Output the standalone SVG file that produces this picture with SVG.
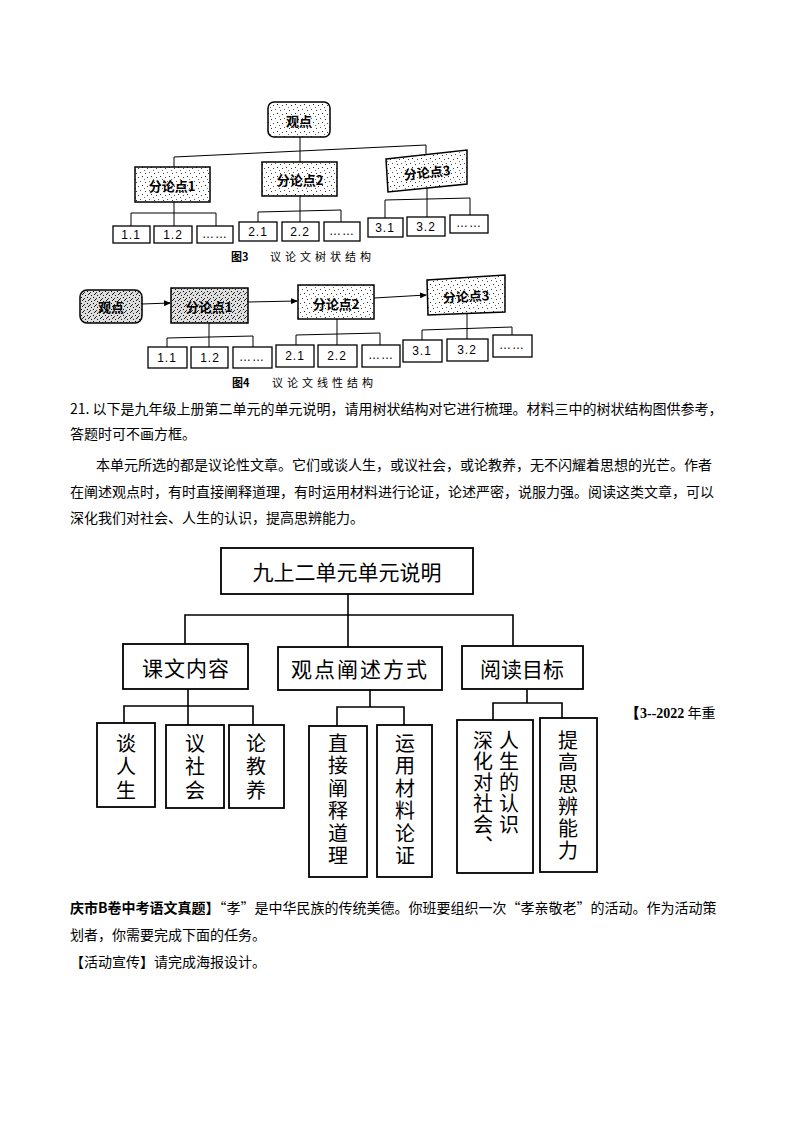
<svg xmlns="http://www.w3.org/2000/svg" width="794" height="1123" viewBox="0 0 794 1123">
<style>
.ln{stroke:#000;stroke-width:1;fill:none}
.bx{stroke:#000;stroke-width:1.3;fill:#fff}
.sb{stroke:#000;stroke-width:1.5;fill:url(#stip)}
.sd{stroke:#000;stroke-width:1.5;fill:url(#stipD)}
.lf{font-family:"Liberation Sans",Arial,sans-serif;font-size:12px;fill:#000;text-anchor:middle;dominant-baseline:central;letter-spacing:1px}
.hd{font-family:"Noto Sans CJK SC",sans-serif;font-size:13px;font-weight:bold;fill:#000;text-anchor:middle;dominant-baseline:central}
.cap{font-family:"Noto Sans CJK SC",sans-serif;font-size:11px;fill:#000;dominant-baseline:central}
.tx{font-family:"Noto Sans CJK SC",sans-serif;font-size:14px;fill:#000}
.bl{stroke:#000;stroke-width:1.6;fill:none}
.bb{stroke:#000;stroke-width:1.8;fill:#fff}
.big{font-family:"Noto Sans CJK SC",sans-serif;font-size:21px;fill:#000;text-anchor:middle;dominant-baseline:central}
.vt{font-family:"Noto Sans CJK SC",sans-serif;font-size:20px;fill:#000;writing-mode:vertical-rl;text-anchor:start}
</style>
<defs>
<pattern id="stip" width="9" height="9" patternUnits="userSpaceOnUse">
<rect width="9" height="9" fill="#fff"/>
<rect x="1" y="2" width="1" height="1" fill="#333"/>
<rect x="5" y="1" width="1" height="1" fill="#555"/>
<rect x="7" y="5" width="1" height="1" fill="#222"/>
<rect x="3" y="6" width="1" height="1" fill="#444"/>
<rect x="0" y="8" width="1" height="1" fill="#666"/>
</pattern>
<pattern id="stipD" width="6" height="6" patternUnits="userSpaceOnUse">
<rect width="6" height="6" fill="#ddd"/>
<rect x="1" y="1" width="1" height="1" fill="#111"/>
<rect x="4" y="0" width="1" height="1" fill="#222"/>
<rect x="3" y="3" width="1" height="1" fill="#000"/>
<rect x="0" y="4" width="1" height="1" fill="#333"/>
<rect x="5" y="5" width="1" height="1" fill="#111"/>
</pattern>
<marker id="ar" markerWidth="7" markerHeight="6" refX="6" refY="3" orient="auto" markerUnits="userSpaceOnUse">
<path d="M0,0 L7,3 L0,6 Z" fill="#000"/>
</marker>
</defs>

<!-- Figure 3 connectors -->
<g id="fig3-connectors">
<path class="ln" d="M300,137 V150"/>
<path class="ln" d="M174,167 V157 L426,145 V155"/>
<path class="ln" d="M300,150 V162"/>
<path class="ln" d="M174,202 V213"/>
<path class="ln" d="M131,226 V213 H216 V226"/>
<path class="ln" d="M174,213 V226"/>
<path class="ln" d="M300,196 V211"/>
<path class="ln" d="M258,222 V212 L341,210 V222"/>
<path class="ln" d="M300,211 V222"/>
<path class="ln" d="M427,188 V199"/>
<path class="ln" d="M385,218 V200 L470,198 V215"/>
<path class="ln" d="M427,199 V218"/>
</g>
<g id="f3-root"><rect class="sb" x="268" y="102" width="62" height="35" rx="6"/><text class="hd" x="299" y="120" font-size="12">观点</text></g>
<g id="f3-p1"><rect class="sb" x="135" y="167" width="75" height="35"/><text class="hd" x="172" y="185" font-size="14">分论点1</text></g>
<g id="f3-p2"><rect class="sb" x="262" y="162" width="75" height="34"/><text class="hd" x="300" y="179" font-size="14">分论点2</text></g>
<g id="f3-p3"><polygon class="sb" points="386,159 467,150 467,184 388,192"/><text class="hd" x="427" y="172" font-size="14" transform="rotate(-6 427 172)">分论点3</text></g>
<g id="f3-l11"><rect class="bx" x="113" y="226" width="37" height="17"/><text class="lf" x="131" y="235">1.1</text></g>
<g id="f3-l12"><rect class="bx" x="154" y="226" width="38" height="17"/><text class="lf" x="173" y="235">1.2</text></g>
<g id="f3-l13"><rect class="bx" x="197" y="226" width="36" height="17"/><text class="lf" x="215" y="234">……</text></g>
<g id="f3-l21"><rect class="bx" x="239" y="222" width="38" height="19"/><text class="lf" x="258" y="232">2.1</text></g>
<g id="f3-l22"><rect class="bx" x="282" y="222" width="37" height="19"/><text class="lf" x="300" y="232">2.2</text></g>
<g id="f3-l23"><rect class="bx" x="324" y="222" width="36" height="19"/><text class="lf" x="342" y="231">……</text></g>
<g id="f3-l31"><rect class="bx" x="368" y="218" width="35" height="19"/><text class="lf" x="385" y="228">3.1</text></g>
<g id="f3-l32"><rect class="bx" x="407" y="217" width="38" height="19"/><text class="lf" x="426" y="227">3.2</text></g>
<g id="f3-l33"><rect class="bx" x="450" y="215" width="38" height="18"/><text class="lf" x="469" y="223">……</text></g>
<text class="cap" x="231" y="256" font-weight="bold">图3</text>
<text class="cap" x="270" y="256" letter-spacing="4">议论文树状结构</text>

<!-- Figure 4 connectors -->
<g id="fig4-connectors">
<path class="ln" d="M142,304 L170,303" marker-end="url(#ar)"/>
<path class="ln" d="M248,302 L297,301" marker-end="url(#ar)"/>
<path class="ln" d="M374,298 L426,295" marker-end="url(#ar)"/>
<path class="ln" d="M209,323 V337"/>
<path class="ln" d="M167,347 V338 L253,336 V347"/>
<path class="ln" d="M209,337 V347"/>
<path class="ln" d="M337,319 V334"/>
<path class="ln" d="M296,345 V335 L380,333 V345"/>
<path class="ln" d="M337,334 V345"/>
<path class="ln" d="M467,313 V328"/>
<path class="ln" d="M422,340 V330 L512,327 V335"/>
<path class="ln" d="M467,328 V340"/>
</g>
<g id="f4-root"><rect class="sd" x="80" y="290" width="62" height="33" rx="7"/><text class="hd" x="111" y="306" font-size="12">观点</text></g>
<g id="f4-p1"><rect class="sd" x="171" y="288" width="77" height="35"/><text class="hd" x="209" y="306" font-size="14">分论点1</text></g>
<g id="f4-p2"><rect class="sb" x="298" y="285" width="76" height="34"/><text class="hd" x="336" y="303" font-size="14">分论点2</text></g>
<g id="f4-p3"><polygon class="sb" points="427,280 505,275 505,312 428,315"/><text class="hd" x="466" y="296" font-size="14" transform="rotate(-3 466 296)">分论点3</text></g>
<g id="f4-l11"><rect class="bx" x="148" y="347" width="39" height="21"/><text class="lf" x="167" y="358">1.1</text></g>
<g id="f4-l12"><rect class="bx" x="191" y="347" width="37" height="21"/><text class="lf" x="210" y="358">1.2</text></g>
<g id="f4-l13"><rect class="bx" x="233" y="347" width="39" height="21"/><text class="lf" x="252" y="357">……</text></g>
<g id="f4-l21"><rect class="bx" x="276" y="345" width="38" height="22"/><text class="lf" x="295" y="356">2.1</text></g>
<g id="f4-l22"><rect class="bx" x="318" y="345" width="39" height="22"/><text class="lf" x="337" y="356">2.2</text></g>
<g id="f4-l23"><rect class="bx" x="362" y="345" width="38" height="22"/><text class="lf" x="381" y="355">……</text></g>
<g id="f4-l31"><rect class="bx" x="403" y="340" width="39" height="22"/><text class="lf" x="422" y="351">3.1</text></g>
<g id="f4-l32"><rect class="bx" x="447" y="339" width="41" height="22"/><text class="lf" x="467" y="350">3.2</text></g>
<g id="f4-l33"><rect class="bx" x="493" y="335" width="39" height="22"/><text class="lf" x="512" y="345">……</text></g>
<text class="cap" x="232" y="382" font-weight="bold">图4</text>
<text class="cap" x="272" y="382" letter-spacing="4">议论文线性结构</text>

<!-- Paragraph text -->
<text class="tx" x="70" y="414">21. 以下是九年级上册第二单元的单元说明，请用树状结构对它进行梳理。材料三中的树状结构图供参考，</text>
<text class="tx" x="70" y="439">答题时可不画方框。</text>
<text class="tx" x="96" y="470">本单元所选的都是议论性文章。它们或谈人生，或议社会，或论教养，无不闪耀着思想的光芒。作者</text>
<text class="tx" x="70" y="497">在阐述观点时，有时直接阐释道理，有时运用材料进行论证，论述严密，说服力强。阅读这类文章，可以</text>
<text class="tx" x="70" y="523">深化我们对社会、人生的认识，提高思辨能力。</text>

<!-- Bottom tree connectors -->
<g id="tree-connectors">
<path class="bl" d="M348,594 V615"/>
<path class="bl" d="M185,645 V615 H513 V646"/>
<path class="bl" d="M348,615 V647"/>
<path class="bl" d="M188,689 V706"/>
<path class="bl" d="M124,723 V706 H253 V725"/>
<path class="bl" d="M188,706 V725"/>
<path class="bl" d="M370,690 V707"/>
<path class="bl" d="M337,726 V707 H404 V725"/>
<path class="bl" d="M527,689 V703"/>
<path class="bl" d="M493,720 V703 H562 V718"/>
</g>
<g id="root"><rect class="bb" x="221" y="548" width="252" height="46"/><text class="big" x="347" y="571">九上二单元单元说明</text></g>
<g id="n-kwnr"><rect class="bb" x="123" y="644" width="125" height="45"/><text class="big" x="186" y="667" letter-spacing="1">课文内容</text></g>
<g id="n-gdcs"><rect class="bb" x="278" y="647" width="164" height="43"/><text class="big" x="360" y="668" letter-spacing="2">观点阐述方式</text></g>
<g id="n-ydmb"><rect class="bb" x="462" y="646" width="121" height="43"/><text class="big" x="522" y="668">阅读目标</text></g>
<g id="n-trs"><rect class="bb" x="97" y="723" width="58" height="84"/><text class="vt" x="126" y="733" letter-spacing="3.5">谈人生</text></g>
<g id="n-ysh"><rect class="bb" x="166" y="725" width="58" height="83"/><text class="vt" x="195" y="733" letter-spacing="3.5">议社会</text></g>
<g id="n-ljy"><rect class="bb" x="229" y="725" width="55" height="83"/><text class="vt" x="256" y="733" letter-spacing="3.5">论教养</text></g>
<g id="n-zjcs"><rect class="bb" x="309" y="726" width="58" height="151"/><text class="vt" x="338" y="733" letter-spacing="2.5">直接阐释道理</text></g>
<g id="n-yycl"><rect class="bb" x="377" y="725" width="55" height="152"/><text class="vt" x="405" y="733" letter-spacing="2.5">运用材料论证</text></g>
<g id="n-shrs"><rect class="bb" x="457" y="720" width="76" height="153"/><text class="vt" x="483" y="730" letter-spacing="1">深化对社会、</text><text class="vt" x="509" y="730" letter-spacing="1">人生的认识</text></g>
<g id="n-tgsb"><rect class="bb" x="540" y="718" width="57" height="154"/><text class="vt" x="568" y="730" letter-spacing="2">提高思辨能力</text></g>

<text x="626" y="718" font-family="Liberation Serif,serif" font-size="14" font-weight="bold">【3--2022<tspan font-family="Noto Sans CJK SC,sans-serif" font-weight="normal"> 年重</tspan></text>

<!-- Bottom text -->
<text class="tx" x="70" y="913"><tspan font-weight="bold">庆市B卷中考语文真题】</tspan>“孝”是中华民族的传统美德。你班要组织一次“孝亲敬老”的活动。作为活动策</text>
<text class="tx" x="70" y="940">划者，你需要完成下面的任务。</text>
<text class="tx" x="70" y="967">【活动宣传】请完成海报设计。</text>
</svg>
